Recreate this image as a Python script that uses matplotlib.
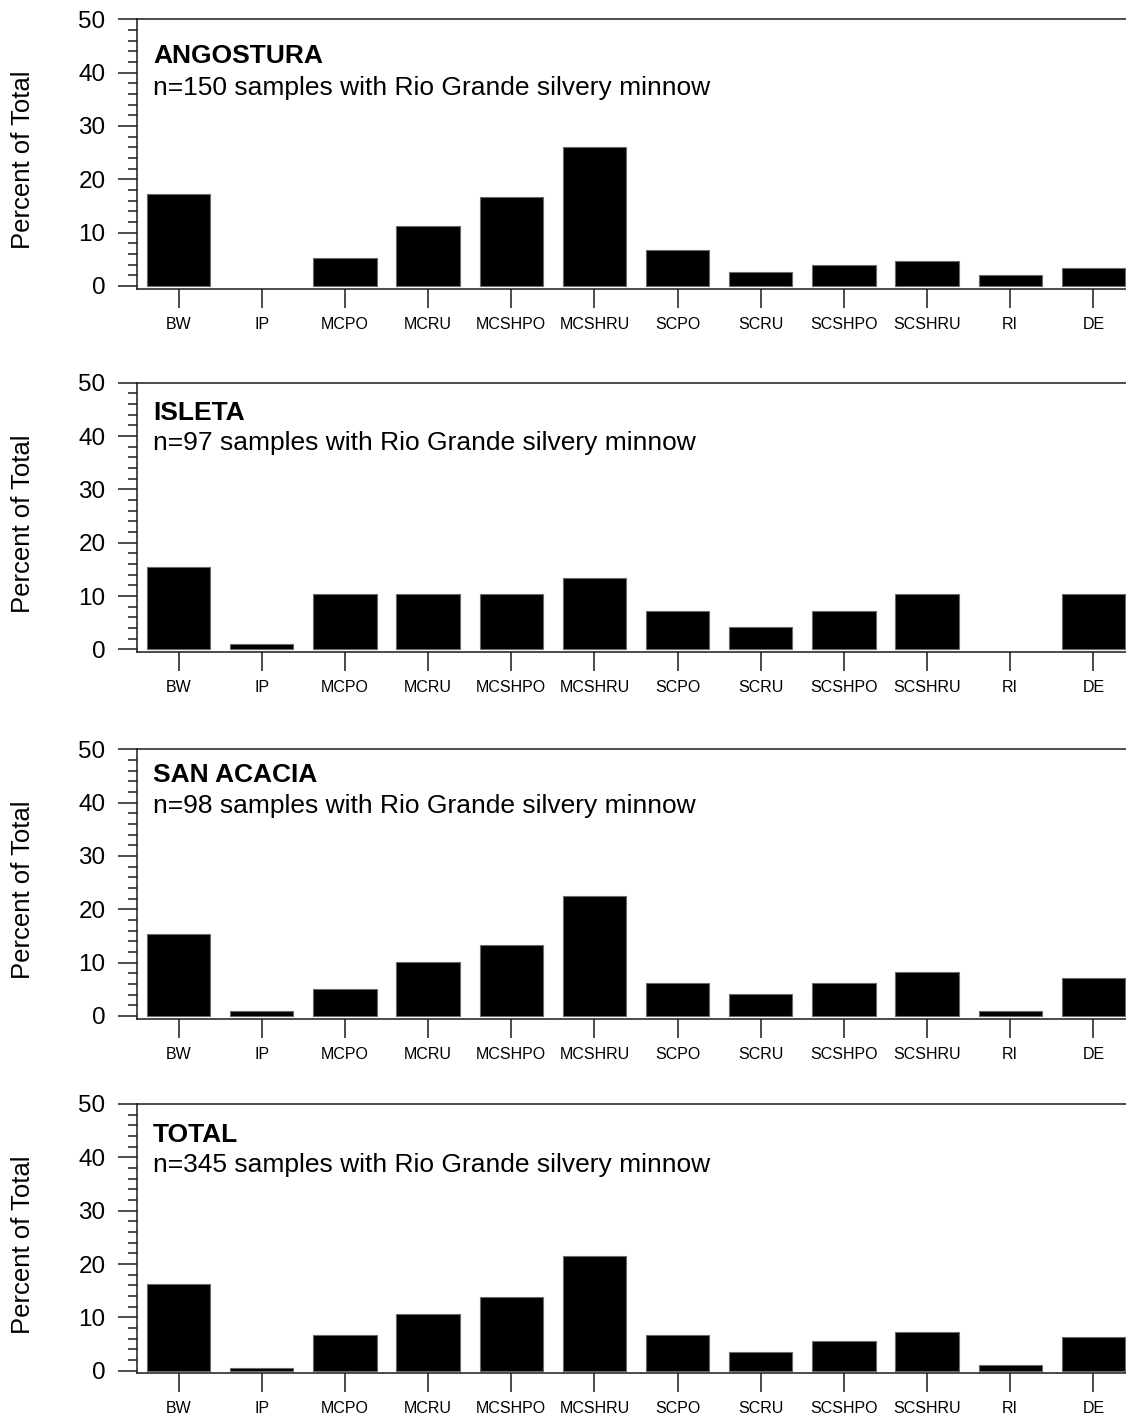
import matplotlib
matplotlib.use("Agg")
import matplotlib.pyplot as plt
from matplotlib.ticker import MultipleLocator

plt.rcParams["font.family"] = ["Liberation Sans", "DejaVu Sans"]

# Mesohabitat categories
categories = ["BW", "IP", "MCPO", "MCRU", "MCSHPO", "MCSHRU",
              "SCPO", "SCRU", "SCSHPO", "SCSHRU", "RI", "DE"]

# Percent of samples per mesohabitat, by reach
angostura = [17.33, 0.00, 5.33, 11.33, 16.67, 26.00, 6.67, 2.67, 4.00, 4.67, 2.00, 3.33]
isleta = [15.46, 1.03, 10.31, 10.31, 10.31, 13.40, 7.22, 4.12, 7.22, 10.31, 0.00, 10.31]
san_acacia = [15.31, 1.02, 5.10, 10.20, 13.27, 22.45, 6.12, 4.08, 6.12, 8.16, 1.02, 7.14]
total = [16.23, 0.58, 6.67, 10.72, 13.91, 21.45, 6.67, 3.48, 5.51, 7.25, 1.16, 6.38]

reach_names = ["ANGOSTURA", "ISLETA", "SAN ACACIA", "TOTAL"]
sample_counts = [150, 97, 98, 345]
series = [angostura, isleta, san_acacia, total]

W, H = 1126, 1419
DPI = 100
fig = plt.figure(figsize=(W / DPI, H / DPI), dpi=DPI)
fig.patch.set_facecolor("white")

# pixel layout of each panel (top edge at y=50)
panel_tops = [19.3, 382.7, 749.3, 1104.0]
title_drop = [44.0, 37.3, 33.0, 38.3]
sub_drop = [75.7, 67.3, 63.4, 67.7]
left_px = 137.0
width_px = 998.0
ymin, ymax = -0.5, 50.0
px_per_unit = 266.7 / 50.0
height_px = (ymax - ymin) * px_per_unit

line_col = "#1a1a1a"
x = list(range(len(categories)))

for i, (vals, name, n) in enumerate(zip(series, reach_names, sample_counts)):
    top = panel_tops[i]
    ax = fig.add_axes([left_px / W, 1 - (top + height_px) / H,
                       width_px / W, height_px / H])
    # empty categories get no outline
    edge_widths = [0.8 if v > 0 else 0.0 for v in vals]
    ax.bar(x, vals, width=0.76, color="black", edgecolor="#6a6a6a",
           linewidth=edge_widths, zorder=2)
    ax.set_xlim(-0.5, len(categories) - 0.5)
    ax.set_ylim(ymin, ymax)

    ax.set_xticks(x)
    ax.set_xticklabels(categories, fontsize=11.5)
    ax.set_yticks([0, 10, 20, 30, 40, 50])
    ax.yaxis.set_minor_locator(MultipleLocator(2))

    ax.tick_params(axis="x", direction="out", length=13.7, width=1.1,
                   color=line_col, pad=6.5)
    ax.tick_params(axis="y", which="major", direction="out", length=13.7,
                   width=1.1, color=line_col, labelsize=17.5, pad=9)
    ax.tick_params(axis="y", which="minor", direction="out", length=6.5,
                   width=1.1, color=line_col)

    for side in ["left", "bottom", "top", "right"]:
        ax.spines[side].set_color(line_col)
        ax.spines[side].set_linewidth(1.1)

    tx = 16.0 / width_px
    ax.text(tx, 1 - title_drop[i] / height_px, name, transform=ax.transAxes,
            fontsize=19, fontweight="bold", ha="left", va="baseline")
    ax.text(tx, 1 - sub_drop[i] / height_px,
            f"n={n} samples with Rio Grande silvery minnow",
            transform=ax.transAxes, fontsize=19, ha="left", va="baseline")

    label_y = top + 0.522 * height_px
    fig.text(23.0 / W, 1 - label_y / H, "Percent of Total", rotation=90,
             fontsize=18.5, ha="center", va="center")

fig.savefig("out.png", dpi=DPI, facecolor="white")
